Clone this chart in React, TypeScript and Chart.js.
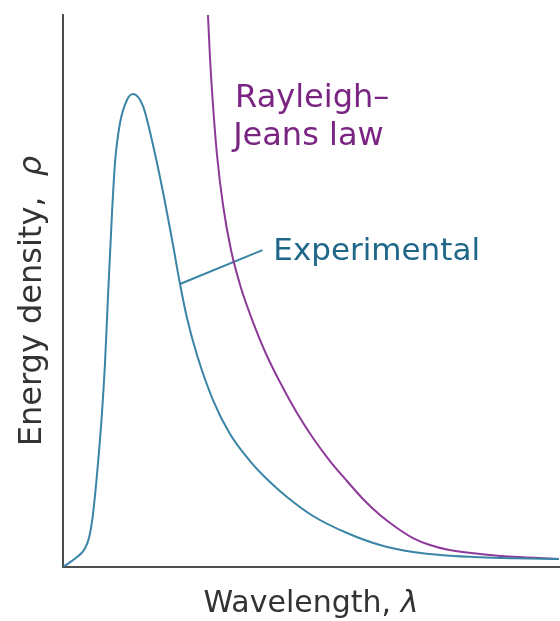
import React, { useEffect, useRef } from "react";
import { Chart, registerables } from "chart.js";

Chart.register(...registerables);

// Experimental blackbody curve (wavelength in arbitrary units 0–100, energy density 0–100)
const experimentalX = [0, 2.82, 4.23, 5.24, 6.05, 7.06, 7.86, 8.47, 9.07, 9.88, 10.48, 11.49, 12.9, 14.11, 16.13, 18.15, 20.16, 22.18, 23.59, 25.0, 27.02, 30.24, 33.67, 37.7, 41.73, 45.16, 50.4, 57.26, 63.91, 70.56, 77.42, 84.07, 90.73, 100];
const experimentalY = [0, 1.81, 3.08, 5.25, 9.6, 18.84, 27.9, 36.96, 48.91, 64.13, 73.19, 80.43, 84.6, 85.69, 83.51, 76.45, 67.93, 58.33, 51.27, 45.11, 38.41, 30.25, 24.09, 19.2, 15.4, 12.68, 9.24, 6.16, 3.99, 2.72, 2.08, 1.76, 1.59, 1.45];

// Rayleigh–Jeans law curve
const rayleighX = [29.23, 29.64, 30.24, 31.05, 32.26, 33.87, 35.89, 38.31, 41.13, 44.15, 47.18, 50.4, 53.83, 57.26, 60.48, 63.91, 67.34, 70.56, 73.99, 77.42, 84.07, 90.73, 100];
const rayleighY = [100, 92.21, 83.7, 74.64, 65.58, 57.43, 50.54, 44.38, 38.22, 32.79, 27.9, 23.37, 19.2, 15.58, 12.32, 9.42, 7.07, 5.25, 3.99, 3.17, 2.36, 1.85, 1.45];

// Annotation texts
const xAxisLabel = "Wavelength, ";
const xAxisSymbol = "λ";
const yAxisLabel = "Energy density,  ";
const yAxisSymbol = "ρ";
const experimentalLabel = "Experimental";
const rayleighLabel = ["Rayleigh–", "Jeans law"];

const BLUE_LINE = "#3a84a6";
const BLUE_TEXT = "#1f6789";
const PURPLE_LINE = "#8d3a99";
const PURPLE_TEXT = "#7a2582";
const AXIS = "#4d4d4d";
const FONT = '"DejaVu Sans", sans-serif';

const toPoints = (xs: number[], ys: number[]) => xs.map((x, i) => ({ x, y: ys[i] }));

const annotationPlugin = {
  id: "annotations",
  beforeDatasetsDraw(chart: any) {
    const { ctx, scales } = chart;
    const x = scales.x;
    const y = scales.y;
    ctx.save();
    ctx.strokeStyle = BLUE_LINE;
    ctx.lineWidth = 2;
    ctx.beginPath();
    ctx.moveTo(x.getPixelForValue(23.59), y.getPixelForValue(51.27));
    ctx.lineTo(x.getPixelForValue(40.2), y.getPixelForValue(57.4));
    ctx.stroke();
    ctx.restore();
  },
  afterDraw(chart: any) {
    const { ctx, scales, chartArea } = chart;
    const x = scales.x;
    const y = scales.y;
    ctx.save();
    ctx.textAlign = "left";
    ctx.textBaseline = "alphabetic";

    // Experimental label
    ctx.font = `31px ${FONT}`;
    ctx.fillStyle = BLUE_TEXT;
    ctx.fillText(experimentalLabel, x.getPixelForValue(42.4), y.getPixelForValue(55.6));

    // Rayleigh–Jeans label
    ctx.font = `32px ${FONT}`;
    ctx.fillStyle = PURPLE_TEXT;
    ctx.fillText(rayleighLabel[0], x.getPixelForValue(34.7), y.getPixelForValue(83.3));
    ctx.fillText(rayleighLabel[1], x.getPixelForValue(34.3), y.getPixelForValue(76.4));

    // X axis title
    ctx.fillStyle = "#333333";
    ctx.font = `30px ${FONT}`;
    const w1 = ctx.measureText(xAxisLabel).width;
    ctx.font = `italic 30px ${FONT}`;
    const w2 = ctx.measureText(xAxisSymbol).width;
    const cx = (chartArea.left + chartArea.right) / 2;
    const startX = cx - (w1 + w2) / 2;
    const baseY = chartArea.bottom + 45;
    ctx.font = `30px ${FONT}`;
    ctx.fillText(xAxisLabel, startX, baseY);
    ctx.font = `italic 30px ${FONT}`;
    ctx.fillText(xAxisSymbol, startX + w1, baseY);

    // Y axis title (rotated)
    ctx.translate(41, (chartArea.top + chartArea.bottom) / 2 + 10);
    ctx.rotate(-Math.PI / 2);
    ctx.font = `32px ${FONT}`;
    const h1 = ctx.measureText(yAxisLabel).width;
    ctx.font = `italic 32px ${FONT}`;
    const h2 = ctx.measureText(yAxisSymbol).width;
    const sx = -(h1 + h2) / 2;
    ctx.font = `32px ${FONT}`;
    ctx.fillText(yAxisLabel, sx, 0);
    ctx.font = `italic 32px ${FONT}`;
    ctx.fillText(yAxisSymbol, sx + h1, 0);
    ctx.restore();
  },
};

export default function App() {
  const canvasRef = useRef<HTMLCanvasElement | null>(null);

  useEffect(() => {
    if (!canvasRef.current) return;
    const chart = new Chart(canvasRef.current, {
      type: "scatter",
      data: {
        datasets: [
          {
            label: "Experimental",
            data: toPoints(experimentalX, experimentalY),
            showLine: true,
            borderColor: BLUE_LINE,
            borderWidth: 2,
            pointRadius: 0,
            cubicInterpolationMode: "monotone",
          },
          {
            label: "Rayleigh–Jeans law",
            data: toPoints(rayleighX, rayleighY),
            showLine: true,
            borderColor: PURPLE_LINE,
            borderWidth: 2,
            pointRadius: 0,
            cubicInterpolationMode: "monotone",
          },
        ],
      },
      options: {
        animation: false,
        responsive: true,
        maintainAspectRatio: false,
        layout: { padding: { top: 15, right: 1, left: 0, bottom: 0 } },
        plugins: { legend: { display: false }, tooltip: { enabled: false } },
        scales: {
          x: {
            type: "linear",
            min: 0,
            max: 100,
            grid: { display: false },
            ticks: { display: false },
            border: { display: true, color: AXIS, width: 2 },
            afterFit: (s: any) => {
              s.height = 54;
            },
          },
          y: {
            type: "linear",
            min: 0,
            max: 100,
            grid: { display: false },
            ticks: { display: false },
            border: { display: true, color: AXIS, width: 2 },
            afterFit: (s: any) => {
              s.width = 63;
            },
          },
        },
      },
      plugins: [annotationPlugin],
    });
    return () => chart.destroy();
  }, []);

  return (
    <div style={{ position: "fixed", left: 0, top: 0, width: 560, height: 621, background: "#ffffff" }}>
      <canvas ref={canvasRef} />
    </div>
  );
}
